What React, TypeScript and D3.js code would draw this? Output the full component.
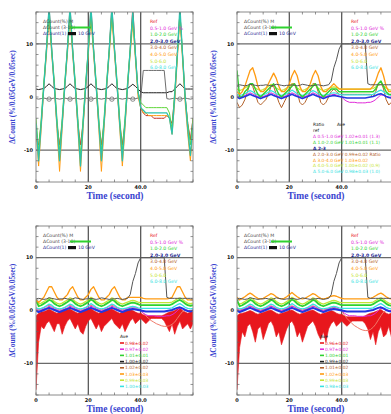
import React from 'react';
import * as d3 from 'd3';

// ---------- data ----------
const TIME = d3.range(0, 61); // seconds
const X_DOMAIN = [0, 60];
const Y_DOMAIN = [-16, 16];
const Y_TICKS = [10, 0, -10];
const Y_TICK_LABELS = ['10', '0', '-10'];
const X_TICKS = [0, 20, 40];
const X_TICK_LABELS = ['0', '20', '40.0'];
const Y_MINOR = d3.range(-16, 17, 2);
const X_MINOR = d3.range(0, 61, 5);
const Y_TITLE = 'ΔCount (%/0.05GeV/0.05sec)';
const X_TITLE = 'Time (second)';

const TL_LABELS = ['ΔCount(%) M', 'ΔCount (3-10)', 'ΔCount(1)', '10 GeV'];
const TR_LABELS = ['Ref', '0.5-1.0 GeV %', '1.0-2.0 GeV', '2.0-3.0 GeV', '3.0-4.0 GeV', '4.0-5.0 GeV', '5.0-6.0', '6.0-8.0 GeV'];
const P2_LEG_HEAD = ['Ratio', 'Ave'];
const P2_LEG_ROWS = ['ref', 'Δ 0.5-1.0 GeV 1.02±0.01 (1.3)', 'Δ 1.0-2.0 GeV 1.01±0.01 (1.1)', 'Δ 2-3', 'Δ 2.0-3.0 GeV 0.99±0.02  Ratio', 'Δ 3.0-4.0 GeV 1.03±0.02', 'Δ 4.0-5.0 GeV 1.00±0.02 (0.9)', 'Δ 5.0-6.0 GeV 0.98±0.03 (1.0)'];
const P3_LEG_HEAD = 'Ave';
const P3_LEG_ROWS = ['0.98±0.02', '0.97±0.02', '1.01±0.01', '1.00±0.02', '1.02±0.02', '1.03±0.03', '0.99±0.03', '1.00±0.03'];
const P4_LEG_ROWS = ['0.96±0.02', '0.97±0.02', '1.00±0.01', '0.99±0.02', '1.01±0.02', '1.02±0.03', '0.99±0.03', '0.98±0.03'];
const P1_MARK_T = [5, 13, 21, 29, 37, 55];

const P1_CYAN = [
  -5, -12, -5, 2, 9, 17, 9, 2, -5, -12,
  -5, 2, 9, 17, 9, 2, -5, -13, -5, 2,
  9, 17, 9, 2, -5, -12, -5, 2, 9, 17,
  9, 2, -5, -12, -5, 2, 9, 16, 8, 1,
  -2, -2.5, -3, -3, -3, -3, -3, -3, -3, -3,
  -3, -4, -7, 0, 8, 17, 8, 0, -6, -11,
  -5];
const P1_GREEN = [
  -4, -10, -4, 3, 9, 16, 9, 3, -4, -10,
  -4, 3, 9, 16, 9, 3, -4, -11, -4, 3,
  9, 16, 9, 3, -4, -10, -4, 3, 9, 16,
  9, 3, -4, -10, -4, 3, 9, 15, 8, 1,
  -1, -1.5, -2, -2, -2, -2, -2, -2, -2, -2,
  -2, -3, -6, 1, 8, 16, 8, 0, -5, -9,
  -4];
const P1_ORANGE = [
  -6, -13, -6, 2, 8, 15, 8, 2, -6, -14,
  -6, 2, 8, 15, 8, 2, -6, -14, -6, 2,
  8, 15, 8, 2, -6, -14, -6, 2, 8, 15,
  8, 2, -6, -13, -6, 2, 8, 14, 7, 0,
  -2, -3, -3, -3.5, -3.5, -3.5, -3.5, -3.5, -3.5, -3.5,
  -3.5, -4, -7, -1, 7, 15, 7, -1, -7, -12,
  -6];
const P1_RED = [
  -8, -9, -5, 2, 9, 17, 9, 2, -5, -9,
  -5, 2, 9, 17, 9, 2, -5, -9, -5, 2,
  9, 17, 9, 2, -5, -9, -5, 2, 9, 17,
  9, 2, -5, -9, -5, 2, 9, 17, 8, 1,
  -2, -3, -3.5, -3.5, -3.5, -4, -4, -4, -4, -4,
  -3.5, -4, -5, 0, 8, 16, 8, 0, -5, -8,
  -4];
const P1_BLACK = [
  1.5, 1.4, 1.5, 1.6, 2, 2.5, 2, 1.6, 1.5, 1.4,
  1.5, 1.6, 2, 2.5, 2, 1.6, 1.5, 1.4, 1.5, 1.6,
  2, 2.5, 2, 1.6, 1.5, 1.4, 1.5, 1.6, 2, 2.5,
  2, 1.6, 1.5, 1.4, 1.5, 1.6, 2, 2.4, 2, 1.5,
  1, 0.8, 0.8, 0.8, 0.8, 0.8, 0.8, 0.8, 0.8, 0.8,
  0.8, 1, 1, 1.5, 2, 2.5, 2, 1.5, 1.5, 1.5,
  1.5];
const P1_GREY = [
  -0.3, -0.4, -0.3, -0.2, -0.3, -0.4, -0.3, -0.2, -0.3, -0.4,
  -0.3, -0.2, -0.3, -0.4, -0.3, -0.2, -0.3, -0.4, -0.3, -0.2,
  -0.3, -0.4, -0.3, -0.2, -0.3, -0.4, -0.3, -0.2, -0.3, -0.4,
  -0.3, -0.2, -0.3, -0.4, -0.3, -0.2, -0.3, -0.4, -0.3, -0.2,
  -0.3, 5, 5, 5, 5, 5, 5, 5, 5, 5,
  -0.3, -0.4, -0.3, -0.2, -0.3, -0.4, -0.3, -0.2, -0.3, -0.4,
  -0.3];

const P2_ORANGE = [
  1, 0.5, 1, 2, 3.5, 5, 5.5, 4, 2, 1,
  1, 1.5, 2.5, 3.5, 4.5, 3.5, 2, 1, 1, 1.5,
  2.5, 4, 5, 4, 2, 1, 1, 1.5, 2.5, 4,
  5, 4, 2, 1, 1, 1.5, 2, 2.5, 2, 1.5,
  1.5, 1.5, 1.5, 1.5, 1.5, 1.5, 1.5, 1.5, 1.5, 1.5,
  1.5, 1.5, 2, 3, 4.5, 5.5, 4, 2, 1, 1,
  1.5];
const P2_BROWN = [
  -1, -2, -1.5, -0.5, 1, 2.5, 2, 0.5, -1, -1.5,
  -1, -0.5, 0.5, 2, 2, 0.5, -1, -2, -1, 0,
  1, 2.5, 2.5, 1, -1, -1.5, -1, 0, 1, 2.5,
  2.5, 1, -1, -1.5, -1, 0, 1, 1.5, 1, 0.5,
  0.5, 0.5, 0.5, 0.5, 0.5, 0.5, 0.5, 0.5, 0.5, 0.5,
  0.5, 0.5, 0, 1, 2.5, 3, 1.5, -0.5, -1.5, -1,
  0];
const P2_GREEN = [
  5, 0, 0, 1, 1.5, 2.5, 2.5, 1.5, 0.5, 0,
  0.5, 1, 1.5, 2, 2.5, 1.5, 0.5, 0, 0.5, 1,
  1.5, 2, 2.5, 1.5, 0.5, 0, 0.5, 1, 1.5, 2,
  2.5, 1.5, 0.5, 0, 0.5, 1, 1.5, 1.5, 1.5, 1,
  1, 1, 1, 1, 1, 1, 1, 1, 1, 1,
  1, 1, 1, 1.5, 2.5, 3, 2, 1, 0.5, 0.5,
  1];

const MID_GREEN = [
  2, 0.8, 1, 1.3, 1.6, 2, 1.8, 1.3, 1, 0.8,
  1, 1.3, 1.6, 2, 1.8, 1.3, 1, 0.8, 1, 1.3,
  1.6, 2.1, 1.8, 1.3, 1, 0.8, 1, 1.3, 1.6, 2,
  1.8, 1.3, 1, 0.8, 1, 1.2, 1.4, 1.5, 1.4, 1.2,
  1, 1, 1, 1, 1, 1, 1, 1, 1, 1,
  1, 1, 1.2, 1.5, 1.8, 2, 1.7, 1.3, 1, 0.9,
  1];
const MID_YGREEN = [
  1.5, 1.2, 1.4, 1.7, 2, 2.4, 2.2, 1.7, 1.4, 1.2,
  1.4, 1.7, 2, 2.4, 2.2, 1.7, 1.4, 1.2, 1.4, 1.7,
  2, 2.5, 2.2, 1.7, 1.4, 1.2, 1.4, 1.7, 2, 2.4,
  2.2, 1.7, 1.4, 1.2, 1.4, 1.6, 1.8, 1.9, 1.8, 1.6,
  1.5, 1.5, 1.5, 1.5, 1.5, 1.5, 1.5, 1.5, 1.5, 1.5,
  1.5, 1.5, 1.6, 1.9, 2.2, 2.4, 2.1, 1.7, 1.4, 1.3,
  1.4];
const MID_CYAN = [
  0.5, 0.3, 0.4, 0.6, 0.9, 1.2, 1, 0.6, 0.4, 0.3,
  0.4, 0.6, 0.9, 1.2, 1, 0.6, 0.4, 0.3, 0.4, 0.6,
  0.9, 1.3, 1, 0.6, 0.4, 0.3, 0.4, 0.6, 0.9, 1.2,
  1, 0.6, 0.4, 0.3, 0.4, 0.5, 0.7, 0.8, 0.7, 0.5,
  0.4, 0.4, 0.4, 0.4, 0.4, 0.4, 0.4, 0.4, 0.4, 0.4,
  0.4, 0.4, 0.5, 0.8, 1.1, 1.3, 1, 0.6, 0.4, 0.3,
  0.4];
const MID_BLUE = [
  0, -0.3, -0.1, 0.1, 0.3, 0.5, 0.3, 0.1, -0.1, -0.3,
  -0.1, 0.1, 0.3, 0.5, 0.3, 0.1, -0.1, -0.3, -0.1, 0.1,
  0.3, 0.5, 0.3, 0.1, -0.1, -0.3, -0.1, 0.1, 0.3, 0.5,
  0.3, 0.1, -0.1, -0.3, -0.1, 0.1, 0.2, 0.3, 0.2, 0.1,
  0, -0.1, -0.2, -0.2, -0.2, -0.2, -0.2, -0.2, -0.2, -0.2,
  -0.1, 0, 0.1, 0.3, 0.5, 0.6, 0.4, 0.1, -0.1, -0.2,
  0];
const MID_MAGENTA = [
  0.3, 0, 0.1, 0.3, 0.5, 0.8, 0.6, 0.3, 0.1, 0,
  0.1, 0.3, 0.5, 0.8, 0.6, 0.3, 0.1, 0, 0.1, 0.3,
  0.5, 0.8, 0.6, 0.3, 0.1, 0, 0.1, 0.3, 0.5, 0.8,
  0.6, 0.3, 0.1, 0, 0.1, 0.3, 0.4, 0.5, 0.4, 0.2,
  0, -0.5, -0.8, -1, -1, -1, -1.1, -1.1, -1.1, -1.1,
  -1, -1, -0.8, -0.5, 0, 0.4, 0.3, 0.1, 0, 0,
  0.1];
const STEP_GREY = [
  2.2, 2.3, 2.2, 2.1, 2.2, 2.4, 2.3, 2.2, 2.1, 2.2,
  2.2, 2.3, 2.2, 2.1, 2.2, 2.4, 2.3, 2.2, 2.1, 2.2,
  2.2, 2.3, 2.2, 2.1, 2.2, 2.4, 2.3, 2.2, 2.1, 2.2,
  2.2, 2.3, 2.2, 2.1, 2.2, 2.3, 3, 5.5, 7, 9,
  10, 10, 10, 10, 10, 10, 10, 10, 10, 10,
  2.5, 2.3, 2.3, 2.3, 2.3, 2.3, 2.3, 2.3, 2.3, 2.3,
  2.3];

const P3_ORANGE = [
  2, 1.5, 2, 2.5, 3.5, 4.5, 4.5, 3.5, 2.5, 2,
  2, 2.5, 3, 4, 4.5, 3.5, 2.5, 2, 2, 2.5,
  3, 4, 4.5, 3.5, 2.5, 2, 2, 2.5, 3, 4,
  4.5, 3.5, 2.5, 2, 2, 2.5, 2.5, 2.5, 2.5, 2.5,
  2.5, 2.3, 2.2, 2.2, 2.2, 2.2, 2.2, 2.2, 2.2, 2.2,
  2.2, 2.3, 2.5, 3.5, 4.5, 4.5, 3.5, 2.5, 2, 2,
  2];
const P3_RED_TOP = [
  -1, -0.5, -0.3, -0.2, 0, 0.3, 0, -0.3, -0.5, -0.3,
  -0.2, 0, 0.2, 0.3, 0, -0.3, -0.5, -0.3, -0.2, 0,
  0.2, 0.4, 0, -0.3, -0.5, -0.3, -0.2, 0, 0.2, 0.3,
  0, -0.3, -0.5, -0.3, -0.2, 0, 0.2, 0, -0.3, -0.5,
  -0.5, -0.8, -1, -1, -1, -1, -1, -1, -1, -0.8,
  -0.5, -0.3, -0.2, 0, 0.3, 0.5, 0, -0.3, -0.5, -0.3,
  -0.2];
const P3_RED_BOT = [
  -15, -6, -3, -3.5, -2.5, -2, -3, -4, -2.5, -2.5,
  -4.5, -3, -2, -1.5, -2.5, -3.5, -2.5, -4, -4.5, -3,
  -2, -1.5, -2.5, -3.5, -2.5, -4, -3, -2.5, -2, -1.5,
  -2.5, -3, -3.5, -2.5, -4, -3, -2, -1.5, -2.5, -2,
  -1.5, -2, -2.5, -2, -1.5, -1.5, -1.5, -1.5, -1.5, -2,
  -3, -4, -2.5, -4.5, -3, -2, -3.5, -3, -2.5, -3.5,
  -2.5];
const P3_SALMON = [
  0.5, 0.2, 0.3, 0.5, 0.8, 1, 0.8, 0.5, 0.3, 0.2,
  0.3, 0.5, 0.8, 1, 0.8, 0.5, 0.3, 0.2, 0.3, 0.5,
  0.8, 1, 0.8, 0.5, 0.3, 0.2, 0.3, 0.5, 0.8, 1,
  0.8, 0.5, 0.3, 0.2, 0.3, 0.5, 0.6, 0.7, 0.6, 0.4,
  0, -0.5, -1, -1.5, -1.9, -2.2, -2.5, -2.7, -2.9, -3,
  -3, -2.9, -2.6, -2.2, -1.5, -0.8, -0.2, 0, 0, 0,
  0];

const P4_ORANGE = [
  2.5, 2, 2.3, 2.6, 3, 3.3, 3, 2.6, 2.3, 2.2,
  2.3, 2.6, 2.9, 3.2, 3, 2.6, 2.3, 2.2, 2.3, 2.6,
  3, 3.4, 3, 2.6, 2.3, 2.2, 2.3, 2.6, 2.9, 3.2,
  3, 2.6, 2.3, 2.2, 2.3, 2.5, 2.7, 2.8, 2.7, 2.5,
  2.3, 2.2, 2.2, 2.2, 2.2, 2.2, 2.2, 2.2, 2.2, 2.2,
  2.2, 2.3, 2.5, 2.8, 3.1, 3.3, 3, 2.6, 2.3, 2.2,
  2.3];
const P4_RED_TOP = [
  -1, -0.6, -0.5, -0.4, -0.2, 0, -0.2, -0.5, -0.7, -0.5,
  -0.4, -0.2, 0, 0.1, -0.2, -0.5, -0.7, -0.5, -0.4, -0.2,
  0, 0.1, -0.2, -0.5, -0.7, -0.5, -0.4, -0.2, 0, 0.1,
  -0.2, -0.5, -0.7, -0.5, -0.4, -0.2, 0, -0.2, -0.5, -0.7,
  -0.7, -1, -1.2, -1.2, -1.2, -1.2, -1.2, -1.2, -1.2, -1,
  -0.7, -0.5, -0.4, -0.2, 0, 0.2, -0.2, -0.5, -0.7, -0.5,
  -0.4];
const P4_RED_BOT = [
  -15, -7, -4, -5, -3, -2.5, -4, -6, -3.5, -3,
  -5.5, -4, -2.5, -2, -3, -5, -4, -6.5, -5, -3.5,
  -2.5, -2, -3, -5, -4, -6, -4.5, -3, -2.5, -2,
  -3, -4.5, -5.5, -4, -6, -3.5, -2.5, -2, -3, -2.5,
  -2, -2.5, -3, -2.5, -2, -2, -2, -2, -2, -2.5,
  -3.5, -5.5, -4, -6.5, -4, -3, -5, -4.5, -3, -5,
  -3];
const P4_SALMON = [
  0.4, 0.1, 0.2, 0.4, 0.7, 0.9, 0.7, 0.4, 0.2, 0.1,
  0.2, 0.4, 0.7, 0.9, 0.7, 0.4, 0.2, 0.1, 0.2, 0.4,
  0.7, 0.9, 0.7, 0.4, 0.2, 0.1, 0.2, 0.4, 0.7, 0.9,
  0.7, 0.4, 0.2, 0.1, 0.2, 0.4, 0.5, 0.6, 0.5, 0.3,
  0, -0.8, -1.5, -2, -2.5, -2.9, -3.2, -3.5, -3.7, -3.8,
  -3.8, -3.6, -3.2, -2.6, -1.8, -1, -0.3, 0, 0, 0,
  0];

// ---------- styles ----------
const C = {
  red: '#e8171d', magenta: '#e02ad8', green: '#2fd22f', navy: '#1b1f8f', blue: '#2236e0',
  brown: '#b4622a', orange: '#ff9b12', ygreen: '#c4e436', cyan: '#38e2e2', teal: '#2cc2ad',
  black: '#1e1e1e', grey: '#6e6e6e', salmon: '#f07a6a', title: '#3a44d0',
};
const LEG_COLORS = [C.red, C.magenta, C.green, C.navy, C.brown, C.orange, C.ygreen, C.cyan];
const W = 157;

type Series = { values: number[]; color: string; width?: number; lo?: number[] };

const PANELS: { left: number; top: number; height: number; series: Series[]; markers?: boolean; lower?: number }[] = [
  {
    left: 36, top: 12, height: 170, markers: true,
    series: [
      { values: P1_BLACK, color: C.black },
      { values: P1_GREY, color: C.grey },
      { values: P1_RED, color: '#c0302a' },
      { values: P1_ORANGE, color: C.orange },
      { values: P1_GREEN, color: '#5fd63a' },
      { values: P1_CYAN, color: C.teal, width: 1.3 },
    ],
  },
  {
    left: 237, top: 12, height: 170, lower: 2,
    series: [
      { values: P2_BROWN, color: C.brown },
      { values: MID_MAGENTA, color: C.magenta },
      { values: MID_CYAN, color: C.cyan, width: 1.2 },
      { values: MID_YGREEN, color: C.ygreen, width: 1.2 },
      { values: P2_GREEN, color: C.green, width: 1.4 },
      { values: MID_BLUE, color: C.blue, width: 1.6 },
      { values: P2_ORANGE, color: C.orange, width: 1.3 },
      { values: STEP_GREY, color: '#555' },
    ],
  },
  {
    left: 36, top: 226, height: 169, lower: 3,
    series: [
      { values: P3_RED_TOP, lo: P3_RED_BOT, color: C.red },
      { values: P3_SALMON, color: C.salmon },
      { values: MID_MAGENTA, color: C.magenta },
      { values: MID_CYAN, color: C.cyan, width: 1.3 },
      { values: MID_YGREEN, color: C.ygreen, width: 1.3 },
      { values: MID_GREEN, color: C.green, width: 1.8 },
      { values: MID_BLUE, color: C.blue, width: 2 },
      { values: P3_ORANGE, color: C.orange, width: 1.3 },
      { values: STEP_GREY, color: '#555' },
    ],
  },
  {
    left: 237, top: 226, height: 169, lower: 4,
    series: [
      { values: P4_RED_TOP, lo: P4_RED_BOT, color: C.red },
      { values: P4_SALMON, color: C.salmon },
      { values: MID_MAGENTA, color: C.magenta },
      { values: MID_CYAN, color: C.cyan, width: 1.3 },
      { values: MID_YGREEN, color: C.ygreen, width: 1.3 },
      { values: MID_GREEN, color: C.green, width: 1.8 },
      { values: MID_BLUE, color: C.blue, width: 2 },
      { values: P4_ORANGE, color: C.orange, width: 1.3 },
      { values: STEP_GREY, color: '#555' },
    ],
  },
];

const FONT = 'DejaVu Sans';

function Panel({ idx }: { idx: number }) {
  const p = PANELS[idx];
  const { left, top, height } = p;
  const x = d3.scaleLinear().domain(X_DOMAIN).range([left, left + W]);
  const y = d3.scaleLinear().domain(Y_DOMAIN).range([top + height, top]);
  const line = d3.line<number>().x((_, i) => x(TIME[i])).y((d) => y(d));
  const clip = `clip${idx}`;
  const legX = left + 114;
  const legY = top + 11;
  const tlX = left + 7;
  const tlY = top + 11;

  return (
    <g>
      <defs>
        <clipPath id={clip}>
          <rect x={left} y={top} width={W} height={height} />
        </clipPath>
      </defs>
      <rect x={left} y={top} width={W} height={height} fill="#fff" />
      {Y_TICKS.filter((t) => t !== 0).map((t) => (
        <line key={'gy' + t} x1={left} x2={left + W} y1={y(t)} y2={y(t)} stroke="#6a6a6a" strokeWidth={1.3} />
      ))}
      {X_TICKS.filter((t) => t !== 0).map((t) => (
        <line key={'gx' + t} x1={x(t)} x2={x(t)} y1={top} y2={top + height} stroke="#5a5a5a" strokeWidth={1.3} />
      ))}
      <g clipPath={`url(#${clip})`}>
        {p.series.map((s, i) => {
          if (s.lo) {
            const area = d3.area<number>().x((_, j) => x(TIME[j])).y0((_, j) => y(s.lo![j])).y1((d) => y(d));
            return <path key={i} d={area(s.values) || ''} fill={s.color} stroke={s.color} strokeWidth={0.6} />;
          }
          return <path key={i} d={line(s.values) || ''} fill="none" stroke={s.color} strokeWidth={s.width ?? 1} strokeLinejoin="round" />;
        })}
        {p.markers &&
          P1_MARK_T.map((t) => (
            <circle key={'m' + t} cx={x(t)} cy={y(P1_GREY[t])} r={2.2} fill="none" stroke={C.grey} strokeWidth={0.8} />
          ))}
      </g>
      <rect x={left} y={top} width={W} height={height} fill="none" stroke="#8a8a8a" strokeWidth={1} />
      {Y_MINOR.map((t) => (
        <g key={'ym' + t}>
          <line x1={left} x2={left + 2.5} y1={y(t)} y2={y(t)} stroke="#666" strokeWidth={0.7} />
          <line x1={left + W - 2.5} x2={left + W} y1={y(t)} y2={y(t)} stroke="#666" strokeWidth={0.7} />
        </g>
      ))}
      {X_MINOR.map((t) => (
        <g key={'xm' + t}>
          <line x1={x(t)} x2={x(t)} y1={top} y2={top + 2.5} stroke="#666" strokeWidth={0.7} />
          <line x1={x(t)} x2={x(t)} y1={top + height - 2.5} y2={top + height} stroke="#666" strokeWidth={0.7} />
        </g>
      ))}
      {Y_TICKS.map((t, i) => (
        <text key={'yl' + t} x={left - 3} y={y(t) + 1.8} textAnchor="end" fontSize={5} fontWeight="bold" fontFamily={FONT} fill="#111">
          {Y_TICK_LABELS[i]}
        </text>
      ))}
      {X_TICKS.map((t, i) => (
        <text key={'xl' + t} x={x(t)} y={top + height + 6.5} textAnchor="middle" fontSize={5} fontWeight="bold" fontFamily={FONT} fill="#111">
          {X_TICK_LABELS[i]}
        </text>
      ))}
      <text
        transform={`translate(${left - 21},${top + height / 2}) rotate(-90)`}
        textAnchor="middle" fontSize={7.5} fontWeight="bold" fontFamily="Liberation Serif" fill={C.title}
      >
        {Y_TITLE}
      </text>
      <text x={left + 79} y={top + height + 16.5} textAnchor="middle" fontSize={9.5} fontWeight="bold" fontFamily="Liberation Serif" fill={C.title}>
        {X_TITLE}
      </text>
      <g fontSize={4.6} fontFamily={FONT}>
        <text x={tlX} y={tlY} fill="#444">{TL_LABELS[0]}</text>
        <text x={tlX} y={tlY + 6} fill="#444">{TL_LABELS[1]}</text>
        <line x1={tlX + 27} x2={tlX + 48} y1={tlY + 4.5} y2={tlY + 4.5} stroke={C.green} strokeWidth={2} />
        <text x={tlX} y={tlY + 12} fill={C.navy}>{TL_LABELS[2]}</text>
        <rect x={tlX + 25} y={tlY + 9} width={8} height={3.2} fill="#111" />
        <text x={tlX + 35} y={tlY + 12} fill={C.navy}>{TL_LABELS[3]}</text>
      </g>
      <g fontSize={4.6} fontFamily={FONT}>
        {TR_LABELS.map((lab, i) => (
          <text key={'tr' + i} x={legX} y={legY + i * 6.6} fill={LEG_COLORS[i]} fontWeight={i === 3 ? 'bold' : 'normal'}>
            {lab}
          </text>
        ))}
      </g>
      {p.lower === 2 && (
        <g fontSize={4.4} fontFamily={FONT}>
          <text x={left + 76} y={top + 114} fill="#222">{P2_LEG_HEAD[0]}</text>
          <text x={left + 100} y={top + 114} fill="#222">{P2_LEG_HEAD[1]}</text>
          {P2_LEG_ROWS.map((lab, i) => (
            <text key={'p2' + i} x={left + 76} y={top + 120 + i * 5.9} fill={i === 0 ? '#222' : i === 3 ? C.navy : LEG_COLORS[i]} fontWeight={i === 3 ? 'bold' : 'normal'}>
              {lab}
            </text>
          ))}
        </g>
      )}
      {(p.lower === 3 || p.lower === 4) && (
        <g fontSize={4.4} fontFamily={FONT}>
          <text x={left + (p.lower === 3 ? 84 : 83)} y={top + 112} fill="#222">{P3_LEG_HEAD}</text>
          {(p.lower === 3 ? P3_LEG_ROWS : P4_LEG_ROWS).map((lab, i) => {
            const lx = left + (p.lower === 3 ? 84 : 83);
            const ly = top + 118.5 + i * 6.2;
            const col = i === 3 ? C.black : LEG_COLORS[i];
            return (
              <g key={'p3' + i}>
                <line x1={lx} x2={lx + 4} y1={ly - 1.5} y2={ly - 1.5} stroke={col} strokeWidth={1.6} />
                <text x={lx + 5} y={ly} fill={col}>{lab}</text>
              </g>
            );
          })}
        </g>
      )}
    </g>
  );
}

export default function App() {
  return (
    <svg width={391} height={414} style={{ position: 'absolute', left: 0, top: 0, background: '#fff' }}>
      <rect width={391} height={414} fill="#fff" />
      {PANELS.map((_, i) => (
        <Panel key={i} idx={i} />
      ))}
    </svg>
  );
}
